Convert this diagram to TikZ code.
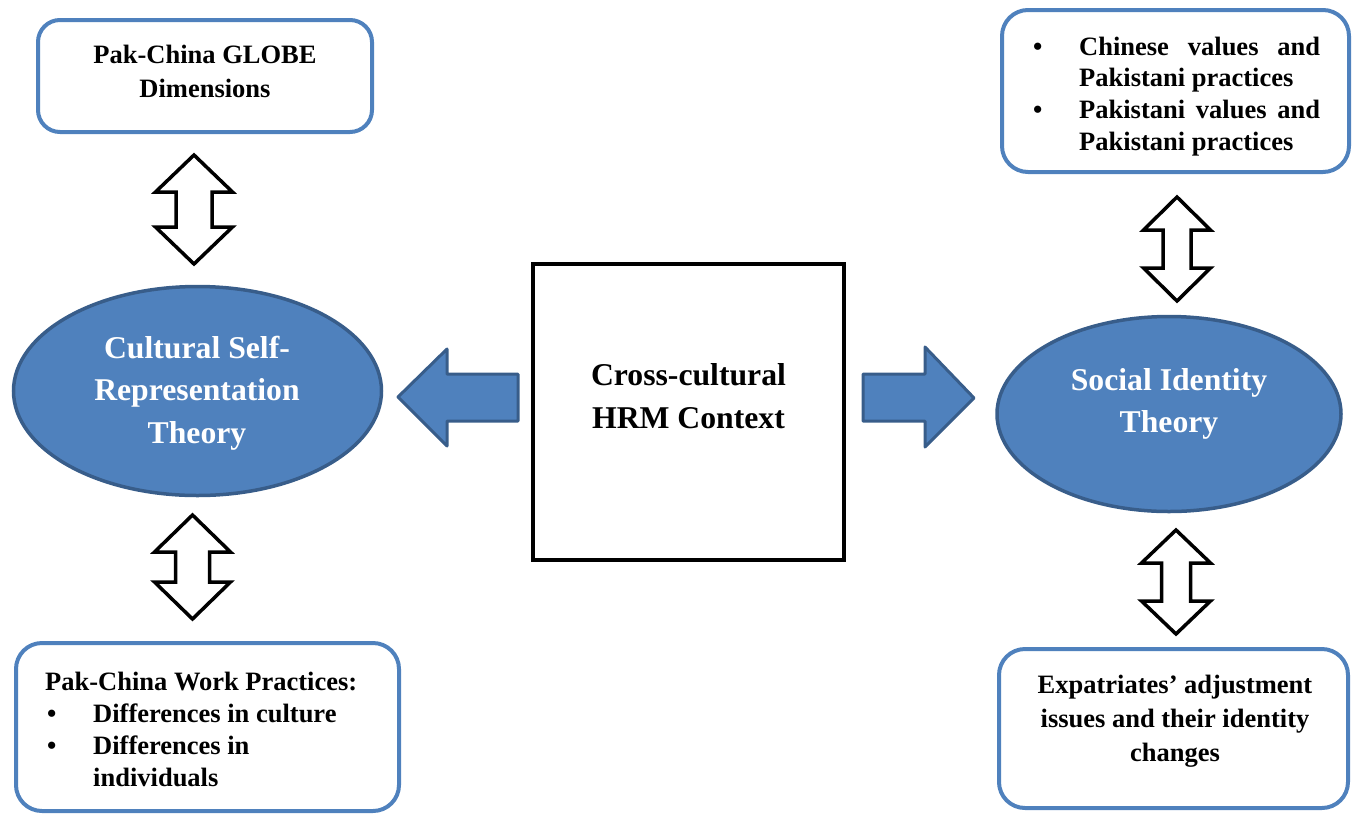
\documentclass[tikz,border=0pt]{standalone}
\usepackage{fontspec}
\setmainfont{Liberation Serif}
\usetikzlibrary{shapes.geometric}
\definecolor{accent}{RGB}{79,129,189}
\definecolor{accentdark}{RGB}{56,93,138}
\tikzset{
  roundbox/.style={draw=accent, line width=4pt, rounded corners=26pt, fill=white, inner sep=0pt},
  oval/.style={ellipse, draw=accentdark, line width=3.5pt, fill=accent, inner sep=0pt},
  ctxbox/.style={draw=black, line width=4pt, inner sep=0pt},
  udarrow/.style={draw=black, line width=3.5pt, fill=white, line join=miter},
  blockarrow/.style={draw=accentdark, line width=3pt, fill=accent, line join=round},
  smalltext/.style={font=\bfseries\fontsize{26.5}{32}\selectfont, inner sep=0pt},
  bigtext/.style={font=\bfseries\fontsize{31.7}{42.5}\selectfont, inner sep=0pt},
}
\newcommand\UDArrow[6]{%
  \draw[udarrow] (#1,#2) -- ({#1+#4},{#2+#6}) -- ({#1+#5},{#2+#6}) -- ({#1+#5},{#3-#6})
    -- ({#1+#4},{#3-#6}) -- (#1,#3) -- ({#1-#4},{#3-#6}) -- ({#1-#5},{#3-#6})
    -- ({#1-#5},{#2+#6}) -- ({#1-#4},{#2+#6}) -- cycle;}
\begin{document}
\begin{tikzpicture}[x=1pt,y=-1pt]
\useasboundingbox (0,0) rectangle (1353,815);

% boxes
\node[roundbox, rounded corners=22pt, minimum width=334pt, minimum height=112pt] (tl) at (205,76) {};
\node[roundbox, minimum width=347pt, minimum height=162pt] (tr) at (1175.5,91) {};
\node[roundbox, minimum width=383pt, minimum height=168pt] (bl) at (207.5,727) {};
\node[roundbox, minimum width=349pt, minimum height=159pt] (br) at (1173.5,728.5) {};
\node[ctxbox, minimum width=311pt, minimum height=296pt] (ctx) at (688.5,412) {};
\node[oval, minimum width=368pt, minimum height=209pt] (csr) at (197.5,391) {};
\node[oval, minimum width=344pt, minimum height=195pt] (sit) at (1169,414) {};

% texts
\node[smalltext, anchor=base] (tlt) at (205,63)
  {\fontsize{26.5}{34}\selectfont\begin{tabular}[t]{@{}c@{}}Pak-China GLOBE\\Dimensions\end{tabular}};
\node[smalltext, anchor=base west] (trt) at (1033,55)
  {\fontsize{26.5}{31.7}\selectfont\begin{tabular}[t]{@{}p{46pt}@{}p{241pt}@{}}
   \textbullet & \makebox[241pt][s]{Chinese values and}\\
   & Pakistani practices\\
   \textbullet & \makebox[241pt][s]{Pakistani values and}\\
   & Pakistani practices
   \end{tabular}};
\node[smalltext, anchor=base west] (blt) at (45,690)
  {\fontsize{26.5}{32}\selectfont\begin{tabular}[t]{@{}p{48pt}@{}l@{}}
   \multicolumn{2}{@{}l@{}}{Pak-China Work Practices:}\\
   \hspace*{2pt}\textbullet & Differences in culture\\
   \hspace*{2pt}\textbullet & Differences in\\
   & individuals
   \end{tabular}};
\node[smalltext, anchor=base] (brt) at (1175,693)
  {\fontsize{26.5}{34}\selectfont\begin{tabular}[t]{@{}c@{}}Expatriates’ adjustment\\issues and their identity\\changes\end{tabular}};
\node[bigtext, anchor=base] (ctxt) at (688.5,385)
  {\fontsize{31.7}{43}\selectfont\begin{tabular}[t]{@{}c@{}}Cross-cultural\\HRM Context\end{tabular}};
\node[bigtext, anchor=base, text=white] (csrt) at (197,358)
  {\fontsize{31.7}{42.5}\selectfont\begin{tabular}[t]{@{}c@{}}Cultural Self-\\Representation\\Theory\end{tabular}};
\node[bigtext, anchor=base, text=white] (sitt) at (1169,390)
  {\fontsize{31.7}{42}\selectfont\begin{tabular}[t]{@{}c@{}}Social Identity\\Theory\end{tabular}};

% block arrows from the context box
\draw[blockarrow] (518,374) -- (447,374) -- (447,349) -- (398,397) -- (447,446) -- (447,421) -- (518,421) -- cycle;
\draw[blockarrow] (863,374) -- (925,374) -- (925,347) -- (974,398) -- (925,447) -- (925,421) -- (863,421) -- cycle;

% double arrows
\UDArrow{194}{155}{264}{38.5}{18}{37}
\UDArrow{1177}{197}{301}{33.5}{14}{33}
\UDArrow{192.5}{515}{619}{38}{17}{37}
\UDArrow{1176}{530}{634}{34.5}{14.5}{33}
\end{tikzpicture}
\end{document}
